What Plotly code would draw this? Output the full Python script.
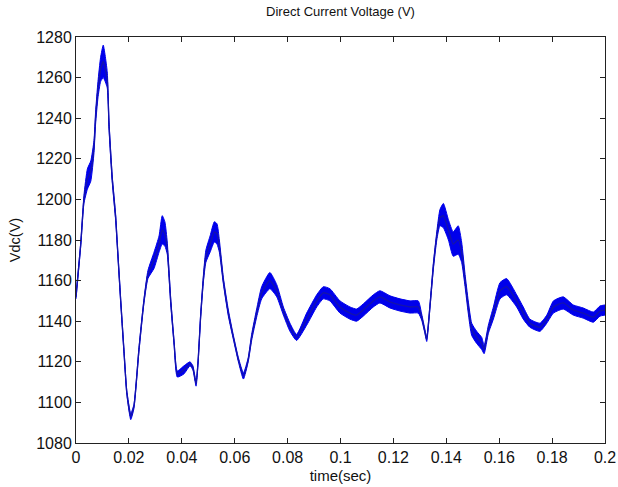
import plotly.graph_objects as go

# time (s), centre voltage (V) and half-width of the noise band (V)
t = [0.0000, 0.0018, 0.0030, 0.0043, 0.0056, 0.0068, 0.0074, 0.0083, 0.0093, 0.0103,
     0.0118, 0.0125, 0.0137, 0.0150, 0.0156, 0.0169, 0.0181, 0.0192, 0.0207, 0.0219,
     0.0238, 0.0257, 0.0272, 0.0295, 0.0314, 0.0326, 0.0336, 0.0345, 0.0358, 0.0371,
     0.0383, 0.0408, 0.0431, 0.0442, 0.0454, 0.0462, 0.0471, 0.0481, 0.0491, 0.0507,
     0.0523, 0.0533, 0.0542, 0.0557, 0.0576, 0.0595, 0.0614, 0.0633, 0.0651, 0.0664,
     0.0683, 0.0702, 0.0733, 0.0759, 0.0784, 0.0809, 0.0834, 0.0872, 0.0910, 0.0935,
     0.0960, 0.0998, 0.1036, 0.1061, 0.1086, 0.1124, 0.1149, 0.1187, 0.1225, 0.1263,
     0.1294, 0.1307, 0.1319, 0.1326, 0.1338, 0.1351, 0.1364, 0.1376, 0.1389, 0.1408,
     0.1426, 0.1445, 0.1458, 0.1471, 0.1483, 0.1496, 0.1515, 0.1534, 0.1543, 0.1559,
     0.1578, 0.1603, 0.1628, 0.1666, 0.1691, 0.1716, 0.1754, 0.1780, 0.1805, 0.1842,
     0.1880, 0.1918, 0.1956, 0.1981, 0.2000]
vdc = [1152, 1178, 1200, 1210, 1214, 1226, 1240, 1254, 1264, 1268,
       1259, 1236, 1210, 1191, 1178, 1150, 1126, 1105, 1093, 1098,
       1126, 1150, 1163, 1170, 1178, 1185, 1183, 1176, 1150, 1129,
       1114, 1116, 1119, 1117, 1109, 1121, 1142, 1160, 1172, 1178,
       1184, 1183, 1177, 1160, 1144, 1132, 1121, 1113, 1121, 1132,
       1144, 1154, 1160, 1155, 1145, 1137, 1132, 1141, 1150, 1154,
       1153, 1147, 1144, 1143, 1145.5, 1150, 1152, 1149.5, 1148, 1147,
       1147, 1142, 1135, 1131, 1147, 1167, 1182, 1191, 1192, 1185,
       1178, 1180, 1174, 1160, 1147, 1136, 1132, 1129, 1126, 1136,
       1144, 1155, 1157, 1150, 1144, 1139, 1137, 1141, 1147, 1149,
       1145.5, 1144, 1142, 1145, 1145.5]
band = [1, 1, 2, 5, 5, 3, 3, 4, 6, 8,
        4, 2, 1.5, 1.5, 1, 1, 1, 1, 1.5, 1,
        1, 1, 2, 4, 4, 7, 6, 3, 1.5, 1,
        1.5, 2, 1, 1, 1, 1, 1, 1.5, 3, 4,
        5, 5, 3, 1.5, 1.5, 1, 1, 1.5, 1, 1.5,
        2, 3, 4, 3, 2, 2, 1.5, 3, 3, 3,
        3, 3, 3, 3, 3, 3, 3, 3, 3, 3,
        3, 1.5, 1, 1, 1, 1.5, 2, 4, 6, 5,
        6, 7, 5, 3, 3, 3, 3, 3, 2, 2,
        3, 4, 4, 3, 3, 2, 2, 2, 3, 3,
        2.5, 2.5, 2.5, 2.5, 2.5]

x_ticks = [0, 0.02, 0.04, 0.06, 0.08, 0.1, 0.12, 0.14, 0.16, 0.18, 0.2]
x_labels = ["0", "0.02", "0.04", "0.06", "0.08", "0.1", "0.12", "0.14", "0.16", "0.18", "0.2"]
y_ticks = [1080, 1100, 1120, 1140, 1160, 1180, 1200, 1220, 1240, 1260, 1280]

lower = [v - b for v, b in zip(vdc, band)]
upper = [v + b for v, b in zip(vdc, band)]

blue = "rgb(0,0,235)"
shape = dict(shape="spline", smoothing=0.5)
fig = go.Figure()
fig.add_trace(go.Scatter(x=t, y=lower, mode="lines", line=dict(color=blue, width=1, **shape),
                         showlegend=False, hoverinfo="skip"))
fig.add_trace(go.Scatter(x=t, y=upper, mode="lines", line=dict(color=blue, width=1, **shape),
                         fill="tonexty", fillcolor=blue, showlegend=False, hoverinfo="skip"))
fig.add_trace(go.Scatter(x=t, y=vdc, mode="lines",
                         line=dict(color="rgb(20,20,170)", width=1.3, **shape),
                         showlegend=False))

font = "Liberation Sans, Arial, sans-serif"
axis_common = dict(showline=True, linecolor="#222", linewidth=1, mirror="ticks",
                   ticks="inside", ticklen=5, tickcolor="#222", showgrid=False,
                   zeroline=False, automargin=False,
                   tickfont=dict(family=font, size=16, color="#111"))
fig.update_layout(
    width=618, height=487,
    margin=dict(l=76, r=13, t=37, b=44, autoexpand=False),
    paper_bgcolor="white", plot_bgcolor="white",
    title=dict(text="Direct Current Voltage (V)", x=0.551, xanchor="center",
               y=0.977, yanchor="middle", font=dict(family=font, size=13, color="#111")),
    xaxis=dict(range=[0, 0.2], tickvals=x_ticks, ticktext=x_labels,
               title=dict(text="time(sec)", standoff=5, font=dict(family=font, size=15, color="#111")),
               **axis_common),
    yaxis=dict(range=[1080, 1280], tickvals=y_ticks,
               title=dict(text="Vdc(V)", standoff=12, font=dict(family=font, size=14.5, color="#111")),
               **axis_common),
)
fig.write_html("out.html")
